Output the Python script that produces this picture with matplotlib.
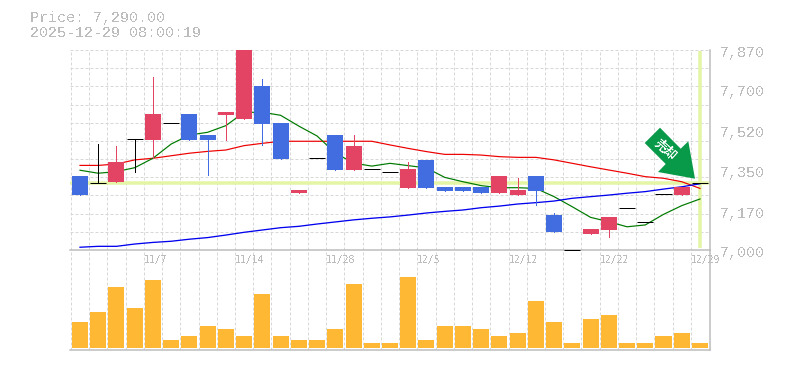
import matplotlib
matplotlib.use('Agg')
import matplotlib.pyplot as plt
from matplotlib.patches import Polygon

# prices
opens = [7322, 7290, 7296, 7482, 7479, 7551, 7592, 7500, 7587, 7570, 7713, 7552, 7248, 7399, 7500, 7348, 7351, 7341,
         7270, 7392, 7274, 7274, 7274, 7248, 7239, 7322, 7152, 7000, 7070, 7087, 7181, 7120, 7242, 7239, 7290]
closes = [7239, 7290, 7383, 7482, 7592, 7551, 7479, 7479, 7600, 7870, 7548, 7396, 7261, 7399, 7348, 7452, 7351, 7341,
          7352, 7270, 7257, 7257, 7248, 7322, 7261, 7257, 7078, 7000, 7091, 7144, 7181, 7120, 7242, 7274, 7290]
highs = [7322, 7461, 7452, 7482, 7753, 7551, 7592, 7500, 7600, 7870, 7744, 7552, 7261, 7399, 7500, 7500, 7351, 7341,
         7383, 7392, 7274, 7274, 7274, 7322, 7313, 7322, 7161, 7000, 7091, 7144, 7181, 7120, 7242, 7274, 7290]
lows = [7239, 7290, 7296, 7341, 7400, 7551, 7479, 7326, 7479, 7570, 7457, 7396, 7248, 7399, 7348, 7348, 7351, 7341,
        7270, 7270, 7257, 7257, 7248, 7248, 7239, 7196, 7078, 7000, 7070, 7057, 7181, 7120, 7242, 7239, 7290]
ma_red = [7368, 7368, 7374, 7392, 7399, 7410, 7421, 7429, 7435, 7454, 7464, 7473, 7473, 7473, 7473, 7473, 7473, 7457,
          7442, 7428, 7416, 7416, 7413, 7406, 7403, 7403, 7392, 7377, 7362, 7348, 7334, 7319, 7312, 7297, 7268]
ma_green = [7347, 7334, 7341, 7358, 7399, 7461, 7500, 7512, 7541, 7599, 7599, 7586, 7539, 7496, 7422, 7378, 7365, 7377,
            7367, 7357, 7316, 7297, 7280, 7271, 7271, 7268, 7232, 7188, 7142, 7123, 7101, 7109, 7155, 7193, 7222]
ma_blue = [7012, 7016, 7016, 7026, 7033, 7038, 7047, 7054, 7065, 7077, 7087, 7097, 7103, 7113, 7122, 7131, 7138, 7144,
           7152, 7161, 7168, 7174, 7184, 7191, 7200, 7206, 7213, 7225, 7232, 7239, 7247, 7254, 7265, 7275, 7288]
volumes = [26, 36, 61, 40, 68, 8, 12, 22, 19, 12, 54, 12, 8, 8, 19, 64, 5, 5,
           71, 8, 22, 22, 19, 12, 15, 47, 26, 5, 29, 33, 5, 5, 12, 15, 5]

price_ticks = [7000, 7170, 7350, 7520, 7700, 7870]
date_labels = ['11/7', '11/14', '11/28', '12/5', '12/12', '12/22', '12/29']
date_pos = [4, 9, 14, 19, 24, 29, 34]
last_price = 7290
title1 = 'Price: 7,290.00'
title2 = '2025-12-29 08:00:19'

W, H = 785, 370
GRAY = '#bcbcbc'
GRID = '#d8d8d8'
LIME = '#e4f5a6'
RED = '#e34463'
BLUE = '#416de0'
FONT = 'Liberation Mono'
STEP = 18.235
x0 = -10 / STEP
x1 = 630 / STEP

plt.rcParams['text.antialiased'] = False


def px(v):
    return v * 72 / 100


fig = plt.figure(figsize=(W / 100, H / 100), dpi=100)
ax = fig.add_axes([70 / W, 1 - 250 / H, 640 / W, 200 / H])
vol = fig.add_axes([70 / W, 1 - 350 / H, 640 / W, 100 / H])

n = len(opens)
xs = list(range(n))

for a in (ax, vol):
    a.set_xlim(x0, x1)
    a.set_xticks([])
    a.set_yticks([])
    a.patch.set_alpha(0)
    for s in a.spines.values():
        s.set_visible(False)
    for i in xs:
        a.axvline(i - 0.5, color=GRID, lw=px(1), ls=(0, (3, 2)), zorder=1)
    a.spines['right'].set_visible(True)
    a.spines['bottom'].set_visible(True)
    a.spines['right'].set_color(GRAY)
    a.spines['bottom'].set_color(GRAY)
    a.spines['right'].set_linewidth(px(1.5))
    a.spines['bottom'].set_linewidth(px(1.5))

# price panel
ax.set_ylim(7000, 7870)
for k in range(0, 11):
    ax.axhline(7000 + 870 * (k + 1) / 11, color=GRID, lw=px(1), ls=(0, (3, 2)), zorder=1)
ax.axhline(last_price, color=LIME, lw=px(3.5), zorder=2)
ax.plot([34, 34], [7009, 7866], color=LIME, lw=px(3.5), zorder=2, solid_capstyle='butt')

ax.plot(xs, ma_red, color='#ee0000', lw=px(1.2), zorder=3)
ax.plot(xs, ma_green, color='#007a00', lw=px(1.2), zorder=3)
ax.plot(xs, ma_blue, color='#0000ee', lw=px(1.3), zorder=3)

for i in xs:
    o, c, h, l = opens[i], closes[i], highs[i], lows[i]
    if o == c:
        ax.plot([i, i], [l, h], color='black', lw=px(1), zorder=5, clip_on=False)
        ax.plot([i - 0.44, i + 0.44], [o, o], color='black', lw=px(1), zorder=5, clip_on=False,
                solid_capstyle='butt')
    else:
        col = RED if c > o else BLUE
        ax.plot([i, i], [l, h], color=col, lw=px(1), zorder=4)
        ax.bar(i, abs(c - o), bottom=min(o, c), width=0.88, color=col, zorder=5)

ax.set_xlim(x0, x1)
ax.set_ylim(7000, 7870)

for p in price_ticks:
    y = 250 - (p - 7000) / 870 * 200 + 3
    fig.text(720 / W, 1 - y / H, f'{p:,}', family=FONT, fontsize=10.8, color=GRAY, va='center', ha='left')

for lab, pos in zip(date_labels, date_pos):
    xp = 80 + (pos - 0.5) * STEP
    fig.text(xp / W, 1 - 260 / H, lab, family='DejaVu Sans Mono', fontsize=7, color=GRAY, va='center', ha='left')

# volume panel
vol.bar(xs, volumes, width=0.88, color='#ffb833', zorder=3)
vol.set_xlim(x0, x1)
vol.set_ylim(-2, 98)

# sell arrow
arrow = [(660, 127.7), (644.7, 143), (665.7, 164), (658, 172), (695, 178.7), (688.3, 141.3), (680.7, 148.7)]
fig.add_artist(Polygon([(a / W, 1 - b / H) for a, b in arrow], closed=True, transform=fig.transFigure,
                       facecolor='#089a48', edgecolor='none', zorder=6))
fig.text(665 / W, 1 - 150 / H, '売却', family=['Noto Sans CJK JP', 'DejaVu Sans'], fontsize=9, fontweight='bold',
         color='white', rotation=-42, rotation_mode='anchor', ha='center', va='center', zorder=7)

fig.text(30 / W, 1 - 18 / H, title1, family=FONT, fontsize=10.8, color=GRAY, va='center', ha='left')
fig.text(30 / W, 1 - 33 / H, title2, family=FONT, fontsize=10.8, color=GRAY, va='center', ha='left')

fig.savefig('out.png', dpi=100)
